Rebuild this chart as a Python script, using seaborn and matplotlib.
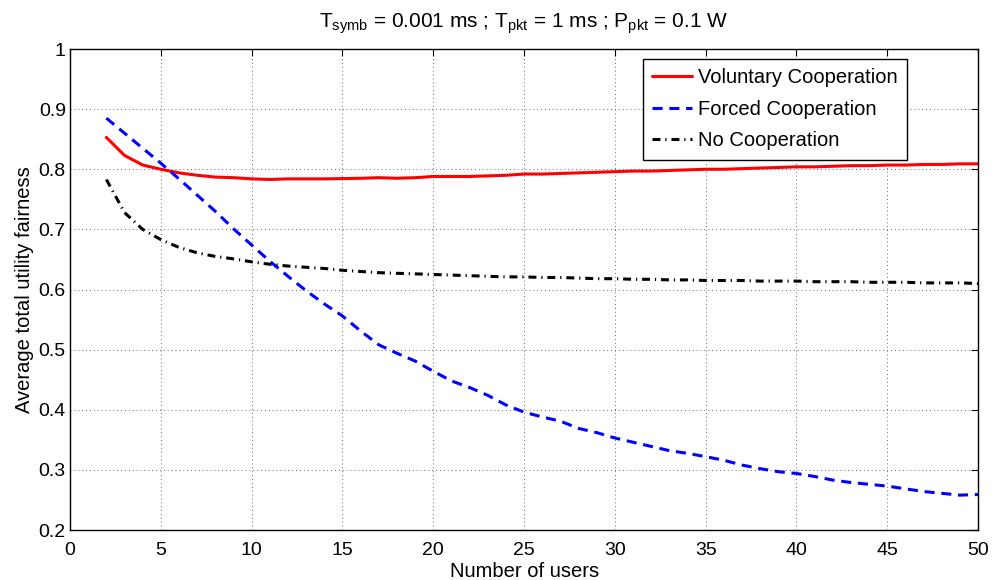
import numpy as np
import pandas as pd
import matplotlib
matplotlib.use("Agg")
import matplotlib.pyplot as plt
import seaborn as sns

# data
users = list(range(2, 51))

voluntary = [0.853, 0.823, 0.807, 0.800, 0.794, 0.790, 0.787, 0.786, 0.784, 0.783,
             0.784, 0.784, 0.784, 0.7845, 0.785, 0.786, 0.785, 0.786, 0.788, 0.788,
             0.788, 0.789, 0.790, 0.792, 0.792, 0.793, 0.794, 0.795, 0.796, 0.797,
             0.797, 0.798, 0.799, 0.800, 0.800, 0.801, 0.802, 0.803, 0.804, 0.804,
             0.805, 0.806, 0.806, 0.807, 0.807, 0.808, 0.808, 0.809, 0.809]

forced = [0.885, 0.860, 0.835, 0.810, 0.784, 0.757, 0.730, 0.701, 0.674, 0.647,
          0.622, 0.598, 0.576, 0.556, 0.531, 0.508, 0.494, 0.481, 0.464, 0.448,
          0.437, 0.424, 0.408, 0.396, 0.388, 0.381, 0.369, 0.362, 0.353, 0.346,
          0.339, 0.332, 0.3275, 0.322, 0.316, 0.308, 0.302, 0.297, 0.294, 0.289,
          0.283, 0.279, 0.276, 0.273, 0.2685, 0.264, 0.261, 0.258, 0.259]

no_coop = [0.783, 0.728, 0.700, 0.683, 0.670, 0.661, 0.655, 0.651, 0.646, 0.642,
           0.639, 0.637, 0.635, 0.632, 0.630, 0.628, 0.627, 0.626, 0.625, 0.624,
           0.623, 0.622, 0.621, 0.621, 0.620, 0.620, 0.619, 0.618, 0.618, 0.617,
           0.617, 0.616, 0.616, 0.615, 0.615, 0.615, 0.614, 0.614, 0.614, 0.613,
           0.613, 0.613, 0.612, 0.612, 0.612, 0.611, 0.611, 0.611, 0.610]

x_ticks = list(range(0, 51, 5))
y_ticks = [0.2, 0.3, 0.4, 0.5, 0.6, 0.7, 0.8, 0.9, 1.0]
y_tick_labels = ["0.2", "0.3", "0.4", "0.5", "0.6", "0.7", "0.8", "0.9", "1"]

sns.set_style("white")
plt.rcParams["font.family"] = ["Liberation Sans", "DejaVu Sans"]
plt.rcParams["mathtext.fontset"] = "custom"
plt.rcParams["mathtext.rm"] = "Liberation Sans"
plt.rcParams["text.color"] = "black"
plt.rcParams["axes.labelcolor"] = "black"

FS = 14

fig = plt.figure(figsize=(9.92, 5.8), dpi=100)
ax = fig.add_axes([0.0706, 0.0862, 0.9154, 0.8293])

sns.lineplot(x=users, y=voluntary, ax=ax, color="#ff0000", lw=2.2,
             label="Voluntary Cooperation")
sns.lineplot(x=users, y=forced, ax=ax, color="#0000ff", lw=2.2,
             linestyle=(0, (3.3, 2.2)), label="Forced Cooperation")
sns.lineplot(x=users, y=no_coop, ax=ax, color="black", lw=2.2,
             linestyle=(0, (2.6, 1.6, 0.4, 1.6)), label="No Cooperation")

ax.set_xlim(0, 50)
ax.set_ylim(0.2, 1.0)
ax.set_xticks(x_ticks)
ax.set_yticks(y_ticks)
ax.set_yticklabels(y_tick_labels)
ax.tick_params(direction="in", top=True, right=True, length=5, width=0.8,
               labelsize=FS, colors="black")
ax.tick_params(axis="x", pad=8.5)
ax.tick_params(axis="y", pad=3)
ax.grid(True, linestyle=(0, (1, 3)), color="#666666", linewidth=0.7)
for s in ax.spines.values():
    s.set_color("black")
    s.set_linewidth(1.0)

ax.set_xlabel("Number of users", fontsize=14.5, labelpad=2.5)
ax.set_ylabel("Average total utility fairness", fontsize=14.5, labelpad=3)
ax.set_title(r"$\mathregular{T_{symb}}$ = 0.001 ms ; $\mathregular{T_{pkt}}$ = 1 ms ; "
             r"$\mathregular{P_{pkt}}$ = 0.1 W", fontsize=15, pad=15.5)

leg = ax.legend(loc="upper right", bbox_to_anchor=(0.9218, 0.979), fontsize=14.5,
                frameon=True, fancybox=False, framealpha=1, edgecolor="black",
                borderaxespad=0, borderpad=0.46, handlelength=2.0,
                handletextpad=0.3, labelspacing=0.62)
leg.get_frame().set_linewidth(1.0)

fig.savefig("out.png", dpi=100)
